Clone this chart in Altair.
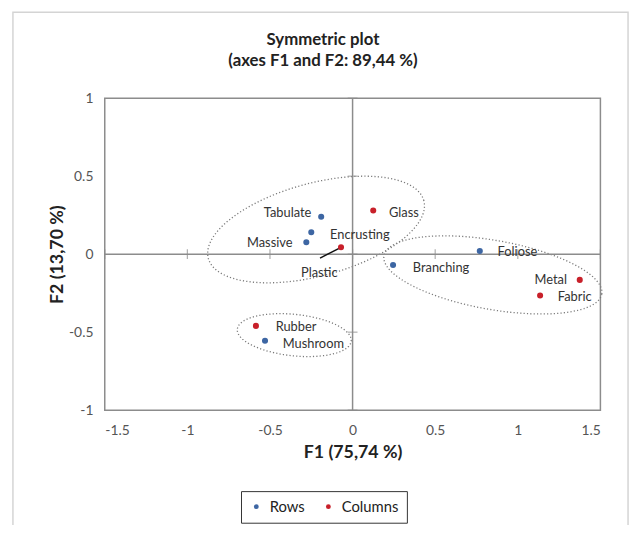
import altair as alt
import numpy as np
import pandas as pd

# ---- data ----
names = ["Tabulate", "Encrusting", "Massive", "Branching", "Foliose", "Mushroom",
         "Plastic", "Glass", "Metal", "Fabric", "Rubber"]
groups = ["Rows"] * 6 + ["Columns"] * 5
f1 = [-0.19, -0.25, -0.28, 0.245, 0.77, -0.53, -0.07, 0.125, 1.375, 1.135, -0.585]
f2 = [0.24, 0.14, 0.076, -0.07, 0.02, -0.555, 0.044, 0.28, -0.165, -0.265, -0.46]

x_ticks = [-1.5, -1, -0.5, 0, 0.5, 1, 1.5]
y_ticks = [-1, -0.5, 0, 0.5, 1]

# grouping ellipses: center (F1, F2), semi-axes (px), tilt (deg)
ell_cx = [-0.221, 0.849, -0.353]
ell_cy = [0.158, -0.133, -0.519]
ell_a = [113, 112, 58]
ell_b = [47, 35, 21]
ell_ang = [15, -10, -6]

# Plastic leader line end
lead_x = [-0.07, -0.197]
lead_y = [0.044, -0.025]

W, H = 502, 316
FONT = "Lato"
BLUE = "#3d66a3"
RED = "#c8202a"
GRAY = "#8c8c8c"

pts = pd.DataFrame({"name": names, "group": groups, "F1": f1, "F2": f2})

xs = alt.Scale(domain=[-1.5, 1.5], nice=False, zero=False)
ys = alt.Scale(domain=[-1, 1], nice=False, zero=False)

# ellipse outlines
rows = []
for k in range(len(ell_cx)):
    th = np.radians(ell_ang[k])
    for i, t in enumerate(np.linspace(0, 2 * np.pi, 121)):
        px = ell_a[k] * np.cos(t) * np.cos(th) - ell_b[k] * np.sin(t) * np.sin(th)
        py = ell_a[k] * np.cos(t) * np.sin(th) + ell_b[k] * np.sin(t) * np.cos(th)
        rows.append({"e": k, "o": i, "F1": ell_cx[k] + px / (W / 3), "F2": ell_cy[k] + py / (H / 2)})
ell = pd.DataFrame(rows)

base_x = alt.X("F1:Q", scale=xs, title="F1 (75,74 %)",
               axis=alt.Axis(values=x_ticks, labelExpr="'' + datum.value", grid=False,
                             ticks=False, domain=False, labelPadding=14,
                             titlePadding=6))
base_y = alt.Y("F2:Q", scale=ys, title="F2 (13,70 %)",
               axis=alt.Axis(values=y_ticks, labelExpr="'' + datum.value", grid=False,
                             ticks=False, domain=False, labelPadding=12,
                             titlePadding=2))

ellipses = alt.Chart(ell).mark_line(color="#7a7a7a", strokeDash=[1.2, 2.2], strokeWidth=1.3).encode(
    x=alt.X("F1:Q", scale=xs), y=alt.Y("F2:Q", scale=ys), detail="e:N", order="o:Q")

zero_df = pd.DataFrame({"v": [0]})
vrule = alt.Chart(zero_df).mark_rule(color=GRAY, strokeWidth=1.5).encode(x=alt.X("v:Q", scale=xs))
hrule = alt.Chart(zero_df).mark_rule(color=GRAY, strokeWidth=1.5).encode(y=alt.Y("v:Q", scale=ys))

xt = alt.Chart(pd.DataFrame({"t": x_ticks, "z": 0})).mark_tick(color=GRAY, size=10, thickness=1.2).encode(
    x=alt.X("t:Q", scale=xs), y=alt.Y("z:Q", scale=ys))
yt = alt.Chart(pd.DataFrame({"t": y_ticks, "z": 0})).mark_tick(color=GRAY, size=10, thickness=1.2, orient="horizontal").encode(
    y=alt.Y("t:Q", scale=ys), x=alt.X("z:Q", scale=xs))

lead = alt.Chart(pd.DataFrame({"F1": lead_x, "F2": lead_y, "o": [0, 1]})).mark_line(
    color="#111111", strokeWidth=1.5).encode(x=alt.X("F1:Q", scale=xs), y=alt.Y("F2:Q", scale=ys), order="o:Q")

points = alt.Chart(pts).mark_circle(size=38, opacity=1).encode(
    x=base_x, y=base_y,
    color=alt.Color("group:N", scale=alt.Scale(domain=["Rows", "Columns"], range=[BLUE, RED]),
                    legend=alt.Legend(title=None, orient="none", legendX=138, legendY=398,
                                      direction="horizontal", strokeColor="#333333",
                                      padding=8, labelFontSize=15, labelFont=FONT,
                                      labelColor="#222222", symbolSize=24, symbolType="circle",
                                      columnPadding=16, labelOffset=6, symbolStrokeWidth=0)))

# label placement (pixels)
label_style = {
    "Tabulate": ("right", -10, -4),
    "Encrusting": ("left", 19, 3),
    "Massive": ("right", -14, 1),
    "Branching": ("left", 20, 3),
    "Foliose": ("left", 18, 1),
    "Mushroom": ("left", 18, 3),
    "Plastic": ("center", -22, 26),
    "Glass": ("left", 16, 3),
    "Metal": ("right", -13, 0),
    "Fabric": ("left", 18, 2),
    "Rubber": ("left", 20, 1),
}
labels = []
for n, (al, dx, dy) in label_style.items():
    labels.append(alt.Chart(pts).transform_filter(alt.datum.name == n).mark_text(
        align=al, baseline="middle", dx=dx, dy=dy, fontSize=13, font=FONT, color="#333333").encode(
        x=alt.X("F1:Q", scale=xs), y=alt.Y("F2:Q", scale=ys), text="name:N"))

border = alt.Chart(zero_df).mark_rect(fill=None, stroke="#d4d4d4", strokeWidth=1.5).encode(
    x=alt.value(-93), x2=alt.value(530), y=alt.value(-87), y2=alt.value(440))

chart = alt.layer(border, ellipses, vrule, hrule, xt, yt, lead, points, *labels).properties(
    width=W, height=H,
    background="white",
    title=alt.TitleParams(["Symmetric plot", "(axes F1 and F2: 89,44 %)"], font=FONT,
                          fontSize=17, fontWeight="bold", color="#222222", anchor="middle",
                          frame="group", dx=-30, offset=-59, lineHeight=21),
    autosize=alt.AutoSizeParams(type="none"),
    padding={"left": 98, "top": 88, "right": 32, "bottom": 113},
).configure_view(stroke=GRAY, strokeWidth=1.5).configure_axis(
    labelFont=FONT, labelFontSize=14, labelColor="#555555",
    titleFont=FONT, titleFontSize=18, titleFontWeight="bold", titleColor="#222222"
)

chart.save("out.html", embed_options={"renderer": "svg", "actions": False})
